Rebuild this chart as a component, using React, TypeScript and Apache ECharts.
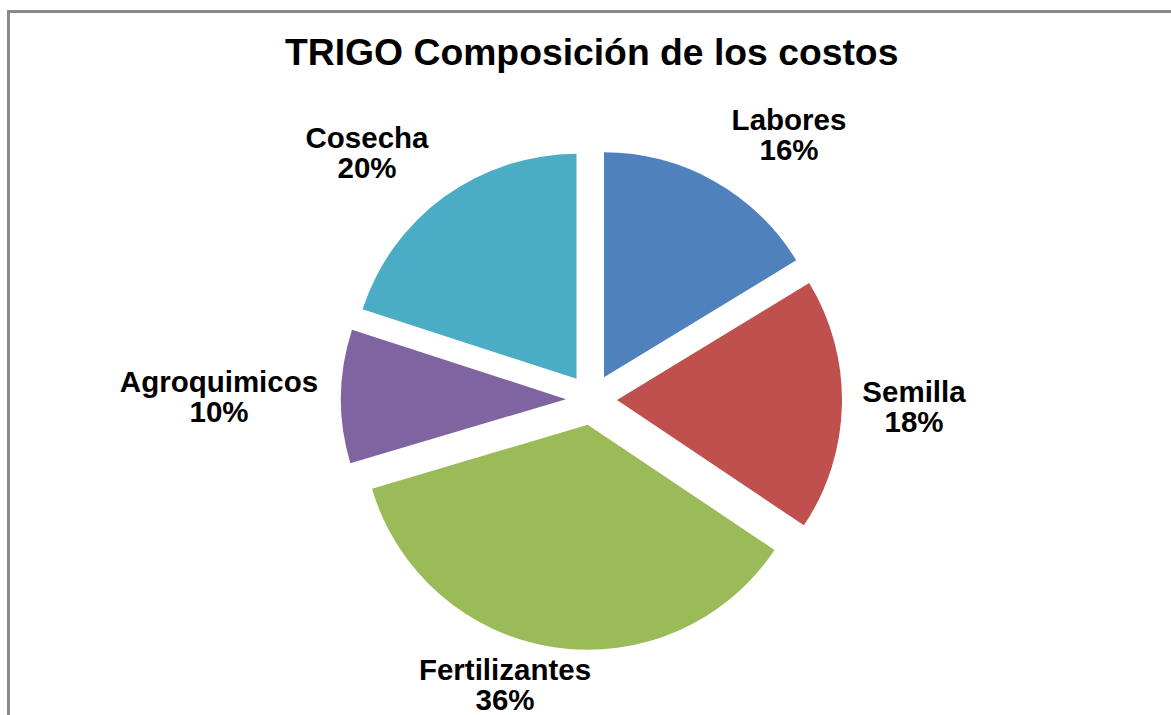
import React, { useEffect, useRef } from "react";
import * as echarts from "echarts";

const TITLE = "TRIGO Composición de los costos";
const categories = ["Labores", "Semilla", "Fertilizantes", "Agroquimicos", "Cosecha"];
const values = [16.3, 18.1, 36.0, 9.6, 20.0];
const colors = ["#4F81BD", "#C0504D", "#9BBB59", "#8064A2", "#4BACC6"];
// label box centres (layout only)
const labelPos: [number, number][] = [
  [789, 134],
  [914, 406],
  [505, 684],
  [219, 396],
  [367, 152],
];

const FONT = "'Liberation Sans', Arial, sans-serif";

export default function App() {
  const ref = useRef<HTMLDivElement>(null);
  useEffect(() => {
    if (!ref.current) return;
    const chart = echarts.init(ref.current, undefined, { renderer: "svg" });
    const total = values.reduce((a, b) => a + b, 0);
    const labelTexts = categories.map((name, i) => ({
      type: "text",
      silent: true,
      z: 10,
      style: {
        text: `${name}\n${Math.round((values[i] / total) * 100)}%`,
        x: labelPos[i][0],
        y: labelPos[i][1],
        align: "center",
        verticalAlign: "middle",
        fill: "#000000",
        fontFamily: FONT,
        fontSize: 29.5,
        fontWeight: "bold",
        lineHeight: 30,
      },
    }));
    chart.setOption({
      animation: false,
      backgroundColor: "#ffffff",
      title: {
        text: TITLE,
        left: 285,
        top: 33,
        padding: 0,
        textStyle: {
          fontFamily: FONT,
          fontSize: 37.3,
          fontWeight: "bold",
          color: "#000000",
        },
      },
      graphic: [
        {
          type: "rect",
          shape: { x: 8.5, y: 11.5, width: 1400, height: 1000 },
          style: { fill: "none", stroke: "#898989", lineWidth: 3 },
          silent: true,
        },
        ...labelTexts,
      ],
      series: [
        {
          type: "pie",
          center: [591.5, 399.5],
          radius: 225,
          startAngle: 90,
          clockwise: true,
          selectedMode: "multiple",
          selectedOffset: 25.5,
          avoidLabelOverlap: false,
          itemStyle: { borderWidth: 0 },
          emphasis: { disabled: true },
          labelLine: { show: false },
          label: { show: false },
          data: categories.map((name, i) => ({
            name,
            value: values[i],
            selected: true,
            itemStyle: { color: colors[i] },
          })),
        },
      ],
    });
    return () => chart.dispose();
  }, []);
  return (
    <div
      ref={ref}
      style={{ position: "fixed", left: 0, top: 0, width: 1171, height: 715 }}
    />
  );
}
